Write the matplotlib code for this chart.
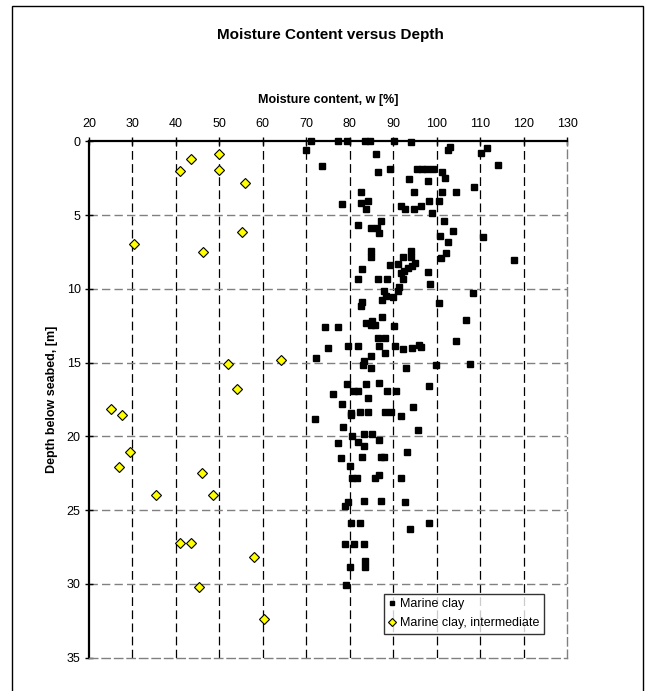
import matplotlib
matplotlib.use("Agg")
import matplotlib.pyplot as plt
from matplotlib.patches import Rectangle

plt.rcParams['font.family'] = ['Liberation Sans', 'DejaVu Sans']

title = "Moisture Content versus Depth"
xlabel = "Moisture content, w [%]"
ylabel = "Depth below seabed, [m]"
series_names = ["Marine clay", "Marine clay, intermediate"]
x_ticks = [20, 30, 40, 50, 60, 70, 80, 90, 100, 110, 120, 130]
y_ticks = [0, 5, 10, 15, 20, 25, 30, 35]

clay_w = [71.0, 70.0, 77.3, 79.4, 83.6, 84.6, 90.2, 94.0, 103.0, 102.5, 111.7, 110.1,
          86.1, 73.6, 114.2, 89.3, 95.5, 96.6, 97.8, 99.2, 86.4, 101.3, 102.0, 93.6,
          97.9, 108.6, 82.5, 94.9, 101.3, 104.5, 78.2, 82.5, 84.3, 83.7, 91.8, 92.7,
          94.9, 96.3, 98.2, 100.5, 98.9, 87.3, 101.8, 82.0, 84.9, 86.3, 86.8, 103.8,
          100.8, 102.7, 110.6, 84.8, 84.8, 94.1, 92.3, 94.1, 102.2, 101.1, 117.9, 89.2,
          91.1, 95.1, 94.3, 93.3, 92.6, 91.8, 82.9, 97.9, 82.0, 86.6, 88.6, 92.3,
          98.4, 91.3, 91.0, 108.3, 88.0, 88.4, 90.0, 87.4, 82.9, 82.7, 100.6, 106.8,
          87.5, 74.4, 77.3, 83.7, 85.2, 84.8, 85.8, 90.2, 86.6, 88.1, 104.5, 75.0,
          79.6, 82.0, 86.8, 90.4, 92.3, 94.3, 95.9, 96.3,
          72.3, 83.3, 83.1, 85.0, 88.1, 85.0, 92.9, 99.9, 107.7, 79.3, 83.8, 86.8,
          80.9, 81.8, 88.6, 90.6, 98.2, 76.2, 84.3, 78.2, 80.2, 80.2, 82.3, 84.3,
          88.1, 89.5, 91.8, 94.6, 72.1, 78.5, 95.7, 80.6, 83.2, 85.2, 86.8, 77.3,
          81.8, 83.2, 93.2, 77.9, 82.8, 87.2, 87.9, 80.0, 80.5, 81.6, 85.8, 86.8,
          91.8, 79.6, 78.9, 83.2, 87.3, 92.7, 80.2, 82.3, 98.2, 93.8,
          78.9, 80.9, 83.2, 83.4, 83.4, 80.0, 79.1]
clay_d = [0.0, 0.58, 0.0, 0.0, 0.0, 0.0, 0.0, 0.04, 0.36, 0.58, 0.42, 0.81,
          0.85, 1.65, 1.58, 1.87, 1.87, 1.87, 1.87, 1.87, 2.05, 2.05, 2.46, 2.53,
          2.66, 3.07, 3.41, 3.41, 3.41, 3.41, 4.24, 4.15, 4.06, 4.61, 4.40, 4.61,
          4.61, 4.40, 4.06, 4.06, 4.85, 5.37, 5.37, 5.67, 5.87, 5.87, 6.21, 6.05,
          6.39, 6.80, 6.46, 7.41, 7.86, 7.41, 7.86, 7.86, 7.59, 7.88, 8.06, 8.40,
          8.29, 8.22, 8.45, 8.58, 8.76, 8.90, 8.67, 8.88, 9.33, 9.33, 9.33, 9.33,
          9.67, 9.85, 10.17, 10.28, 10.17, 10.46, 10.53, 10.75, 10.86, 11.14, 10.93, 12.09,
          11.88, 12.56, 12.56, 12.33, 12.15, 12.45, 12.45, 12.49, 13.35, 13.35, 13.55, 14.03,
          13.89, 13.89, 13.89, 13.89, 14.05, 14.03, 13.80, 13.92,
          14.69, 14.91, 15.16, 14.55, 14.37, 15.37, 15.37, 15.16, 15.07, 16.47, 16.47, 16.36,
          16.95, 16.90, 16.90, 16.90, 16.56, 17.15, 17.38, 17.83, 18.39, 18.58, 18.37, 18.37,
          18.37, 18.37, 18.64, 18.03, 18.82, 19.37, 19.57, 20.00, 19.86, 19.86, 20.25, 20.45,
          20.36, 20.65, 21.06, 21.45, 21.40, 21.40, 21.40, 22.00, 22.85, 22.85, 22.85, 22.60,
          22.85, 24.45, 24.72, 24.40, 24.40, 24.45, 25.85, 25.85, 25.85, 26.28,
          27.32, 27.32, 27.32, 28.45, 28.85, 28.85, 30.05]

inter_w = [43.4, 50.0, 41.0, 50.0, 55.9, 55.2, 30.4, 46.3, 64.1, 52.0, 54.0, 25.0,
           27.6, 29.4, 27.0, 46.0, 35.4, 48.6, 40.9, 43.4, 57.9, 45.4, 60.2]
inter_d = [1.2, 0.88, 2.0, 1.91, 2.79, 6.12, 6.93, 7.47, 14.83, 15.1, 16.77, 18.16,
           18.56, 21.04, 22.07, 22.47, 24.0, 23.94, 27.2, 27.2, 28.2, 30.18, 32.39]

W, H = 650, 691
fig = plt.figure(figsize=(W / 100, H / 100), dpi=100)
ax = fig.add_axes([89 / W, 1 - 657.7 / H, (567 - 89) / W, (657.7 - 141.4) / H])

# outer chart border
fig.patches.append(Rectangle((12 / W, -0.05), (643 - 12) / W, 1.05 - 6 / H,
                             transform=fig.transFigure, fill=False,
                             edgecolor='black', linewidth=1.0))

fig.text(330 / W, 1 - 35 / H, title, ha='center', va='center',
         fontsize=11, fontweight='bold')

ax.set_xlim(20, 130)
ax.set_ylim(35, 0)
ax.set_xticks(x_ticks)
ax.set_yticks(y_ticks)
ax.xaxis.tick_top()
ax.xaxis.set_label_position('top')

for x in x_ticks[1:-1]:
    ax.axvline(x, color='black', linewidth=0.9, linestyle=(0, (7, 3.5)), zorder=1)
for y in y_ticks[1:-1]:
    ax.axhline(y, color='#808080', linewidth=1.0, linestyle=(0, (6, 3)), zorder=1)

ax.spines['top'].set_linewidth(1.6)
ax.spines['left'].set_linewidth(1.6)
for s in ['right', 'bottom']:
    ax.spines[s].set_color('#808080')
    ax.spines[s].set_linestyle((0, (6, 3)))
    ax.spines[s].set_linewidth(1.0)

ax.tick_params(axis='x', which='both', direction='inout', length=6, width=1.0,
               labelsize=9, pad=5, top=True, bottom=False)
ax.tick_params(axis='y', which='both', direction='inout', length=6, width=1.0,
               labelsize=9, pad=3, left=True, right=False)

ax.plot(clay_w, clay_d, linestyle='none', marker='s', markersize=3.8,
        color='black', label=series_names[0], clip_on=False, zorder=4)
ax.plot(inter_w, inter_d, linestyle='none', marker='D', markersize=5.2,
        markerfacecolor='#ffff00', markeredgecolor='black', markeredgewidth=0.8,
        label=series_names[1], clip_on=False, zorder=4)

ax.set_xlabel(xlabel, fontsize=9, fontweight='bold')
ax.xaxis.label.set_va('center')
ax.xaxis.set_label_coords(0.5, 1 + 41.4 / 516.3)
ax.set_ylabel(ylabel, fontsize=9, fontweight='bold')
ax.yaxis.label.set_va('center')
ax.yaxis.set_label_coords(-37 / 478, 0.5)

leg = fig.legend(loc='upper left', bbox_to_anchor=(384 / W, 1 - 594 / H),
                 fontsize=9, frameon=True, fancybox=False, borderaxespad=0,
                 handlelength=0.6, handletextpad=0.35, labelspacing=0.55,
                 borderpad=0.35, markerscale=0.8)
leg.get_frame().set_edgecolor('black')
leg.get_frame().set_linewidth(1.0)

fig.savefig('out.png', dpi=100)
